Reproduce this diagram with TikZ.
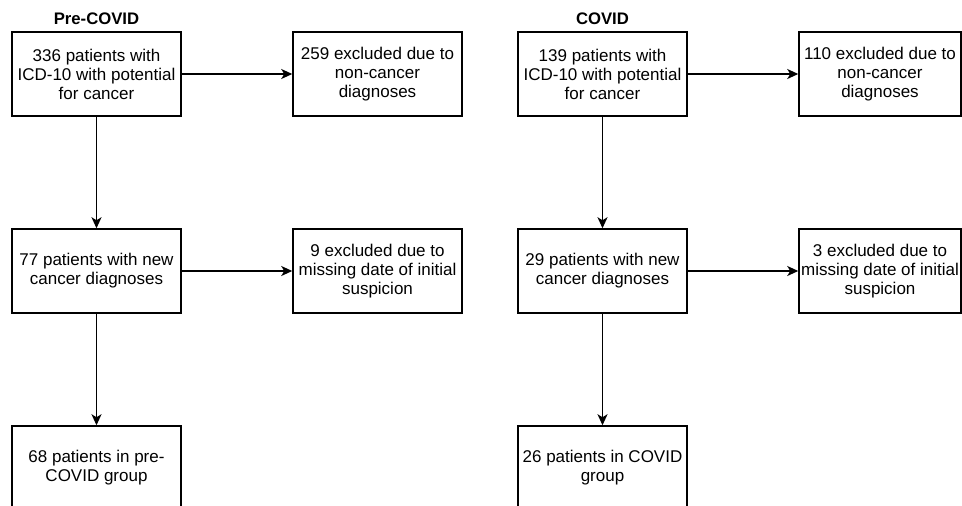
\documentclass[tikz,border=0pt]{standalone}
\usepackage{fontspec}
\setmainfont{Liberation Sans}
\usetikzlibrary{arrows.meta}
\begin{document}
\begin{tikzpicture}[x=1pt,y=1pt,
  box/.style={draw=black,line width=1.5pt,minimum width=169pt,minimum height=84pt,align=center,inner sep=0pt,font=\fontsize{17}{19}\selectfont},
  narrowbox/.style={box,minimum width=162pt},
  title/.style={font=\fontsize{16.7}{19}\selectfont\bfseries},
  conn/.style={line width=1.6pt,-{Stealth[length=11pt,width=10pt,inset=3pt]}}]
\useasboundingbox (0,0) rectangle (962,-506);
\fill[white] (0,0) rectangle (962,-506);
% Pre-COVID
\node[title] (t1) at (96.5,-19) {Pre-COVID};
\node[box] (a1) at (96.5,-74) {336 patients with\\ICD-10 with potential\\for cancer};
\node[box] (e1) at (377.5,-74) {259 excluded due to\\non-cancer\\diagnoses};
\node[box] (b1) at (96.5,-271) {77 patients with new\\cancer diagnoses};
\node[box] (f1) at (377.5,-271) {9 excluded due to\\missing date of initial\\suspicion};
\node[box] (c1) at (96.5,-468) {68 patients in pre-\\COVID group};
\draw[conn] (a1) -- (e1);
\draw[conn] (a1) -- (b1);
\draw[conn] (b1) -- (f1);
\draw[conn] (b1) -- (c1);
% COVID
\node[title] (t2) at (602.5,-19) {COVID};
\node[box] (a2) at (602.5,-74) {139 patients with\\ICD-10 with potential\\for cancer};
\node[narrowbox] (e2) at (880,-74) {110 excluded due to\\non-cancer\\diagnoses};
\node[box] (b2) at (602.5,-271) {29 patients with new\\cancer diagnoses};
\node[narrowbox] (f2) at (880,-271) {3 excluded due to\\missing date of initial\\suspicion};
\node[box] (c2) at (602.5,-468) {26 patients in COVID\\group};
\draw[conn] (a2) -- (e2);
\draw[conn] (a2) -- (b2);
\draw[conn] (b2) -- (f2);
\draw[conn] (b2) -- (c2);
\end{tikzpicture}
\end{document}
